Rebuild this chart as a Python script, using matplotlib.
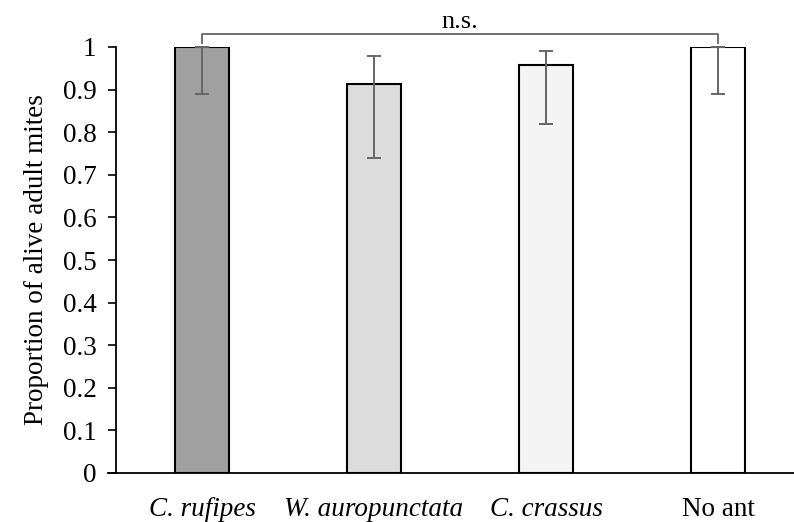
import matplotlib.pyplot as plt
import numpy as np

plt.rcParams['font.family'] = ['Liberation Serif', 'DejaVu Serif']

# survival proportions per treatment, with lower / upper bounds
treatments = ['C. rufipes', 'W. auropunctata', 'C. crassus', 'No ant']
italic = [True, True, True, False]
proportion = [1.0, 0.914, 0.958, 1.0]
lower_ci = [0.89, 0.74, 0.82, 0.89]
upper_ci = [1.0, 0.98, 0.99, 1.0]
bar_colors = ['#a0a0a0', '#dcdcdc', '#f4f4f4', '#ffffff']

fig = plt.figure(figsize=(7.94, 5.22), dpi=100)
ax = fig.add_axes([116 / 794, 49 / 522, 688 / 794, 426 / 522])

x = np.arange(len(treatments))
ax.bar(x, proportion, width=0.315, color=bar_colors, edgecolor='black',
       linewidth=1.5, zorder=2)

yerr = [np.array(proportion) - np.array(lower_ci),
        np.array(upper_ci) - np.array(proportion)]
ax.errorbar(x, proportion, yerr=yerr, fmt='none', ecolor='#666666',
            elinewidth=1.4, capsize=5, capthick=1.4, zorder=3, clip_on=False)

# bracket across all groups
y_br = 1.03
ax.plot([x[0], x[0], x[-1], x[-1]], [1.01, y_br, y_br, 1.01], color='#666666',
        lw=1.3, clip_on=False, zorder=1)
ax.text((x[0] + x[-1]) / 2, y_br + 0.003, 'n.s.', ha='center', va='bottom',
        fontsize=19)

ax.set_xlim(-0.5, 3.5)
ax.set_ylim(0, 1)
ax.set_yticks(np.arange(0, 1.01, 0.1))
ax.set_yticklabels(['0'] + ['%.1f' % v for v in np.arange(0.1, 0.95, 0.1)] + ['1'])
ax.tick_params(axis='y', labelsize=19.5, length=6, width=1.2, pad=8)
ax.set_xticks(x)
ax.set_xticklabels(treatments, fontsize=19.5)
for lab, it in zip(ax.get_xticklabels(), italic):
    if it:
        lab.set_style('italic')
ax.tick_params(axis='x', length=0, pad=17)

ax.spines['top'].set_visible(False)
ax.spines['right'].set_visible(False)
ax.spines['left'].set_linewidth(1.3)
ax.spines['bottom'].set_linewidth(1.3)
ax.spines['bottom'].set_bounds(-0.545, 3.5)

ax.set_ylabel('Proportion of alive adult mites', fontsize=19.5, labelpad=10)

fig.savefig('out.png', dpi=100)
